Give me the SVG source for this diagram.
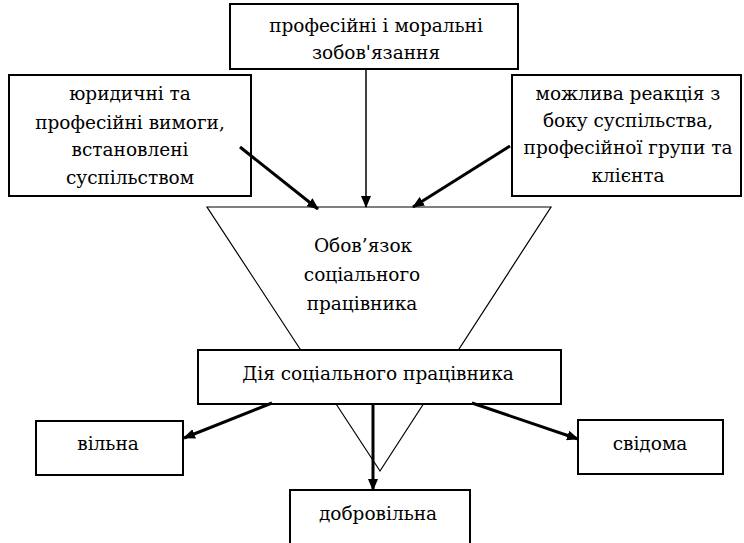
<svg xmlns="http://www.w3.org/2000/svg" width="744" height="543" viewBox="0 0 744 543">
<style>
.box{fill:#fff;stroke:#000;stroke-width:2}
.tri{fill:#fff;stroke:#000;stroke-width:1.2}
text{font-family:'DejaVu Serif','Liberation Serif',serif;font-size:18.5px;fill:#000;text-anchor:middle}
.thick{stroke:#000;stroke-width:3;fill:none}
.thin{stroke:#000;stroke-width:1.5;fill:none}
</style>
<defs>
<marker id="ah" viewBox="0 0 12 10" refX="11" refY="5" markerWidth="12" markerHeight="10" markerUnits="userSpaceOnUse" orient="auto">
<path d="M0,0 L12,5 L0,10 z" fill="#000"/>
</marker>
</defs>
<rect width="744" height="543" fill="#fff"/>
<g id="obov">
<polygon class="tri" points="207,207 551,207 380,471"/>
<text x="363" y="252">Обов’язок</text>
<text x="362" y="281">соціального</text>
<text x="362" y="310">працівника</text>
</g>
<g id="top">
<rect class="box" x="230" y="4" width="288" height="65"/>
<text x="376" y="32">професійні і моральні</text>
<text x="376" y="59">зобов'язання</text>
</g>
<g id="left">
<rect class="box" x="9" y="75" width="242" height="121"/>
<text x="130" y="100">юридичні та</text>
<text x="130" y="129">професійні вимоги,</text>
<text x="130" y="156">встановлені</text>
<text x="130" y="184">суспільством</text>
</g>
<g id="right">
<rect class="box" x="512" y="75" width="229" height="121"/>
<text x="628" y="100">можлива реакція з</text>
<text x="628" y="127">боку суспільства,</text>
<text x="628" y="154">професійної групи та</text>
<text x="628" y="182">клієнта</text>
</g>
<g id="action">
<rect class="box" x="198" y="350" width="363" height="54"/>
<text x="378" y="380">Дія соціального працівника</text>
</g>
<g id="vilna">
<rect class="box" x="36" y="421" width="147" height="54"/>
<text x="108" y="450">вільна</text>
</g>
<g id="svidoma">
<rect class="box" x="578" y="420" width="145" height="54"/>
<text x="650" y="450">свідома</text>
</g>
<g id="dobro">
<rect class="box" x="290" y="490" width="180" height="60"/>
<text x="378" y="520">добровільна</text>
</g>
<g id="connectors">
<line class="thick" x1="240" y1="147" x2="318" y2="209" marker-end="url(#ah)"/>
<line class="thin" x1="366" y1="69" x2="366" y2="207" marker-end="url(#ah)"/>
<line class="thick" x1="510" y1="146" x2="413" y2="207" marker-end="url(#ah)"/>
<line class="thick" x1="272" y1="403" x2="184" y2="438" marker-end="url(#ah)"/>
<line class="thick" x1="373" y1="404" x2="373" y2="490" marker-end="url(#ah)"/>
<line class="thick" x1="472" y1="403" x2="578" y2="439" marker-end="url(#ah)"/>
</g>
</svg>
